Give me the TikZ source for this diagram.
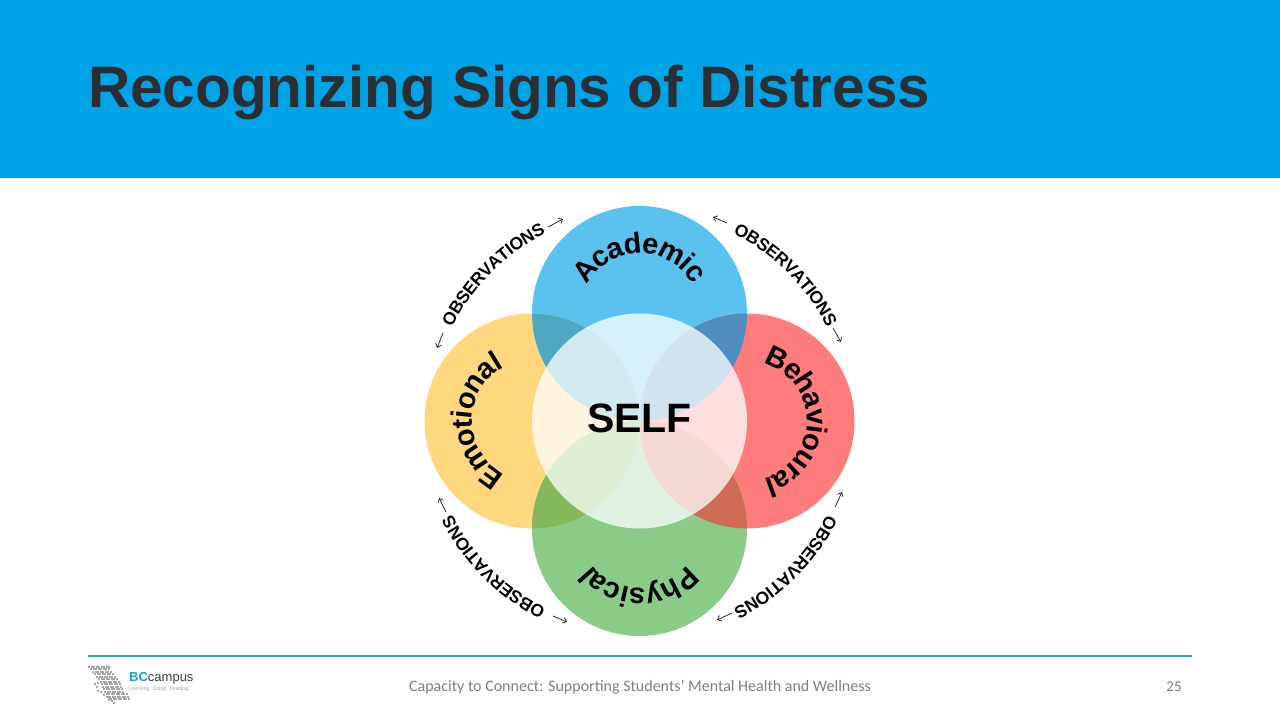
\documentclass[tikz,border=0pt]{standalone}
\usepackage{fontspec}
\setmainfont{Liberation Sans}
\newfontfamily\footfont{Carlito}
\usetikzlibrary{calc,arrows.meta}
\definecolor{headblue}{HTML}{00A4E6}
\definecolor{titledark}{HTML}{2B2E33}
\definecolor{acad}{HTML}{5BC2F0}
\definecolor{emot}{HTML}{FFD77F}
\definecolor{behav}{HTML}{FF7C7C}
\definecolor{phys}{HTML}{8ACB88}
\definecolor{lensAE}{HTML}{4DA9C2}
\definecolor{lensAB}{HTML}{4F8DC0}
\definecolor{lensEP}{HTML}{85B85B}
\definecolor{lensBP}{HTML}{CF6A55}
\definecolor{footline}{HTML}{2FA6BF}
\definecolor{footgrey}{HTML}{7F7F7F}
\definecolor{logoblue}{HTML}{1F9BCF}
\definecolor{logodark}{HTML}{3A3F44}
\definecolor{logogrey}{HTML}{A0A8AC}
\tikzset{
  obsarrow/.style={draw=black!85,line width=0.75pt,-{Straight Barb[length=3.5pt,width=6pt]}},
  logodot/.style={fill=logogrey},
  arcletter/.style={anchor=base,inner sep=0,outer sep=0},
}
% name, center, mid angle, radius, font px, letter/width-in-em list; \arctrack scales the advance
\newcommand{\arctext}[6]{%
  \gdef\arctotal{0}%
  \foreach \ch/\w in {#6}{\pgfmathsetmacro{\tmpv}{\arctotal+\w}\xdef\arctotal{\tmpv}}%
  \gdef\arcpos{0}%
  \foreach \ch/\w [count=\i] in {#6}{%
    \pgfmathsetmacro{\ang}{#3-(\arcpos+0.5*\w-0.5*\arctotal)*\arctrack*#5/(#4)*180/pi}%
    \pgfmathsetmacro{\rot}{\ang-90}%
    \node[arcletter,font=\fontsize{#5}{#5}\selectfont\bfseries,rotate=\rot] (#1\i) at ($(#2)+(\ang:#4)$) {\ch};
    \pgfmathsetmacro{\tmpv}{\arcpos+\w}\xdef\arcpos{\tmpv}%
  }}
\def\obsletters{O/.778,B/.722,S/.667,E/.667,R/.722,V/.64,A/.70,T/.611,I/.278,O/.778,N/.722,S/.667}
\begin{document}
\begin{tikzpicture}[x=1pt,y=1pt]
\useasboundingbox (0,0) rectangle (1280,720);
\fill[white] (0,0) rectangle (1280,720);
\fill[headblue] (0,542) rectangle (1280,720);
\node[anchor=base west,inner sep=0,text=titledark,font=\fontsize{58.5}{58.5}\selectfont\bfseries] (title) at (88,612) {Recognizing Signs of Distress};
% circles
\coordinate (C) at (639.5,299);
\coordinate (A) at (639.5,406.5);
\coordinate (E) at (532,299);
\coordinate (B) at (747,299);
\coordinate (P) at (639.5,191.5);
\def\R{107.5}
\fill[acad] (A) circle (\R);
\fill[emot] (E) circle (\R);
\fill[behav] (B) circle (\R);
\fill[phys] (P) circle (\R);
\begin{scope}\clip (A) circle (\R); \fill[lensAE] (E) circle (\R); \fill[lensAB] (B) circle (\R);\end{scope}
\begin{scope}\clip (P) circle (\R); \fill[lensEP] (E) circle (\R); \fill[lensBP] (B) circle (\R);\end{scope}
\fill[white,opacity=0.75] (C) circle (\R);
\node[font=\fontsize{41}{41}\selectfont\bfseries,inner sep=0,anchor=base] (self) at (639.5,287) {SELF};
% labels on arcs
\def\arctrack{0.93}
\arctext{ac}{A}{90}{60}{29}{A/.722,c/.556,a/.556,d/.611,e/.556,m/.889,i/.278,c/.556}
\arctext{be}{B}{0}{60}{29}{B/.722,e/.556,h/.611,a/.556,v/.556,i/.278,o/.611,u/.611,r/.389,a/.556,l/.278}
\arctext{ph}{P}{270}{60}{29}{P/.667,h/.611,y/.556,s/.556,i/.278,c/.556,a/.556,l/.278}
\arctext{em}{E}{180}{60}{29}{E/.667,m/.889,o/.611,t/.333,i/.278,o/.611,n/.611,a/.556,l/.278}
% observations
\def\arctrack{0.97}
\foreach \nm/\mid in {oa/135,ob/45,oc/315,od/225}{
  \edef\doarc{\noexpand\arctext{\nm}{C}{\mid}{209.5}{17.5}{\obsletters}}\doarc
}
% arrows
\coordinate (a1s) at (443,387); \coordinate (a1e) at (437,372);
\coordinate (a2s) at (548,493); \coordinate (a2e) at (563,501);
\coordinate (a3s) at (727,497); \coordinate (a3e) at (713,503);
\coordinate (a4s) at (833,392); \coordinate (a4e) at (841,378);
\coordinate (a5s) at (835,213); \coordinate (a5e) at (842,228);
\coordinate (a6s) at (732,107); \coordinate (a6e) at (717,100);
\coordinate (a7s) at (553,104); \coordinate (a7e) at (567,98);
\coordinate (a8s) at (446,208); \coordinate (a8e) at (439,222);
\foreach \n in {1,...,8} \draw[obsarrow] (a\n s) -- (a\n e);
% footer
\draw[footline,line width=1.6pt] (88,64) -- (1192,64);
\node[anchor=base,inner sep=0,text=footgrey,font=\footfont\fontsize{16}{16}\selectfont] (foot) at (640,28) {Capacity to Connect: Supporting Students’ Mental Health and Wellness};
\node[anchor=base,inner sep=0,text=footgrey,font=\footfont\fontsize{15}{15}\selectfont] (page) at (1174,28) {25};
% logo
\foreach \r in {0,...,13}{
  \pgfmathsetmacro{\yy}{52-2.5*\r}
  \pgfmathsetmacro{\xl}{\r<6 ? 88+2.0*\r : 100+1.1*(\r-6)}
  \pgfmathsetmacro{\xr}{108+1.6*\r}
  \pgfmathsetmacro{\nn}{int((\xr-\xl)/2.5)}
  \foreach \c in {0,...,\nn}{
    \fill[logodot] ({\xl+2.5*\c},\yy) rectangle +(2,2);
  }
}
\foreach \px/\py in {94/35,96/32,97/28,100/27,103/24,106/22,108/19,111/18,113/16,97/36}{
  \fill[logodot] (\px,\py) rectangle +(2,2);
}
\node[anchor=base west,inner sep=0,font=\fontsize{13}{13}\selectfont] (logotext) at (129,38.5) {\textcolor{logoblue}{\bfseries BC}\textcolor{logodark}{campus}};
\node[anchor=base west,inner sep=0,text=logogrey,font=\fontsize{5.2}{5.2}\selectfont] (logotag) at (129,29) {Learning. Doing. Leading.};
\end{tikzpicture}
\end{document}
